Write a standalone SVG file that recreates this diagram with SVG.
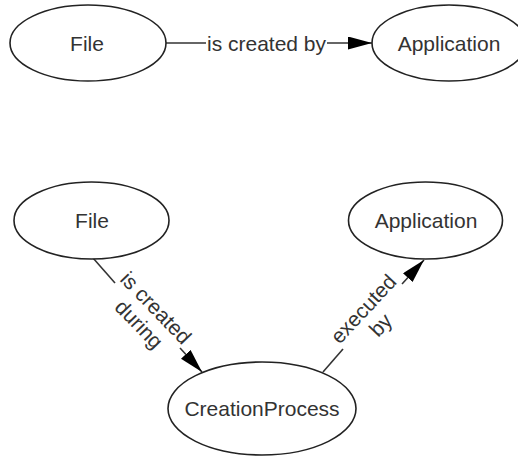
<svg xmlns="http://www.w3.org/2000/svg" width="518" height="458" viewBox="0 0 518 458">
<style>
.node ellipse{fill:#fff;stroke:#222;stroke-width:1.6}
.node text,.lbl{font-family:"Liberation Sans",Arial,sans-serif;font-size:21px;fill:#333}
.node text{text-anchor:middle}
.lbl{text-anchor:middle}
.edge{fill:none;stroke:#333;stroke-width:1.6}
</style>
<defs>
<marker id="arr" markerUnits="userSpaceOnUse" markerWidth="26" markerHeight="14" refX="24" refY="6.5" orient="auto">
<path d="M0,0 L24,6.5 L0,13 z" fill="#000"/>
</marker>
</defs>
<rect width="518" height="458" fill="#fff"/>
<g id="connectors">
<path class="edge" d="M166,43 L206,43"/>
<path class="edge" d="M327,43 L372,43" marker-end="url(#arr)"/>
<text class="lbl" x="266.5" y="50.5">is created by</text>
<path class="edge" d="M93,258 L115,283"/>
<path class="edge" d="M180,348 L202,372" marker-end="url(#arr)"/>
<text class="lbl" transform="translate(147.5,316) rotate(46)"><tspan x="0" y="-4.5">is created</tspan><tspan x="0" y="19">during</tspan></text>
<path class="edge" d="M323,372 L343,349"/>
<path class="edge" d="M402,284 L424,260" marker-end="url(#arr)"/>
<text class="lbl" transform="translate(372,317) rotate(-47)"><tspan x="0" y="-4.5">executed</tspan><tspan x="0" y="19">by</tspan></text>
</g>
<g id="file1" class="node"><ellipse cx="88" cy="43" rx="78" ry="38"/><text x="87" y="50.5">File</text></g>
<g id="application1" class="node"><ellipse cx="449" cy="43" rx="77" ry="38"/><text x="449" y="50.5">Application</text></g>
<g id="file2" class="node"><ellipse cx="91.5" cy="220.5" rx="77.5" ry="38.5"/><text x="92" y="227.5">File</text></g>
<g id="application2" class="node"><ellipse cx="425.5" cy="220.5" rx="77" ry="38.5"/><text x="426" y="227.5">Application</text></g>
<g id="creationprocess" class="node"><ellipse cx="262" cy="408.5" rx="94" ry="46.5"/><text x="262" y="415.5">CreationProcess</text></g>
</svg>
